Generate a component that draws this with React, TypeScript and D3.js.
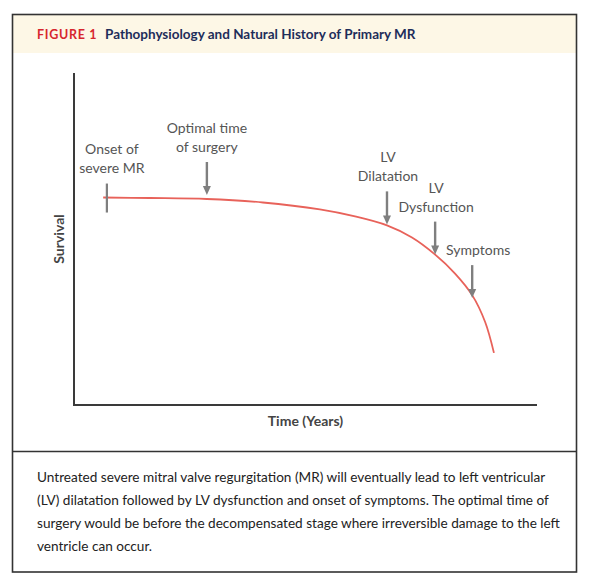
import React from "react";
import * as d3 from "d3";

// survival curve (arbitrary units)
const timePoints = [0.63, 1.64, 2.87, 4.08, 5.31, 6.07, 6.76, 7.3, 7.8, 8.23, 8.6, 8.88, 9.07];
const survival = [62.5, 62.35, 62.05, 61.0, 58.9, 56.8, 54.1, 50.45, 45.3, 39.6, 33.1, 25.0, 15.7];

const eventNames = ["onset", "optimal", "dilatation", "dysfunction", "symptoms"];
const eventTimes = [0.71, 2.87, 6.76, 7.8, 8.6];
const eventLabels = [
  ["Onset of", "severe MR"],
  ["Optimal time", "of surgery"],
  ["LV", "Dilatation"],
  ["LV", "Dysfunction"],
  ["Symptoms"],
];

const captionLines = [
  "Untreated severe mitral valve regurgitation (MR) will eventually lead to left ventricular",
  "(LV) dilatation followed by LV dysfunction and onset of symptoms. The optimal time of",
  "surgery would be before the decompensated stage where irreversible damage to the left",
  "ventricle can occur.",
];

const W = 605;
const H = 579;
const FONT = "Lato, 'Open Sans', sans-serif";

const App: React.FC = () => {
  const x = d3.scaleLinear().domain([0, 10]).range([74, 537]);
  const y = d3.scaleLinear().domain([0, 100]).range([405, 73]);

  const pts = timePoints.map((t, i) => ({ t, v: survival[i] }));
  const line = d3
    .line<{ t: number; v: number }>()
    .x((d) => x(d.t))
    .y((d) => y(d.v))
    .curve(d3.curveCatmullRom.alpha(0.5));

  const bis = d3.bisector((d: { t: number }) => d.t).left;
  const levelAt = (t: number) => {
    const i = Math.max(1, Math.min(pts.length - 1, bis(pts, t)));
    const a = pts[i - 1];
    const b = pts[i];
    return a.v + ((b.v - a.v) * (t - a.t)) / (b.t - a.t);
  };

  const labelDx: Record<string, number> = { onset: 5, optimal: 0, dilatation: 1, dysfunction: 1, symptoms: 6 };
  const tipGap: Record<string, number> = { optimal: 4, dilatation: 1, dysfunction: 0, symptoms: -3 };
  const gray = "#7f7f7f";

  return (
    <svg
      width={W}
      height={H}
      style={{ position: "absolute", left: 0, top: 0, background: "#fff" }}
      fontFamily={FONT}
    >
      {/* frame + header band */}
      <rect x={13} y={15} width={563} height={38} fill="#fdf7e6" />
      <rect x={12.5} y={14.5} width={564} height={557.5} fill="none" stroke="#333" strokeWidth={1.6} />
      <line x1={12.5} x2={576.5} y1={451.5} y2={451.5} stroke="#333" strokeWidth={1.6} />
      <text x={37} y={39} fontSize={12.5} fontWeight={700} fill="#d7262e" letterSpacing={0.7}>
        FIGURE 1
      </text>
      <text x={105} y={39} fontSize={13.5} fontWeight={700} fill="#1e2d5a">
        Pathophysiology and Natural History of Primary MR
      </text>

      {/* axes */}
      <line x1={x(0)} x2={x(0)} y1={y(100)} y2={y(0) + 1} stroke="#3a3a3a" strokeWidth={2} />
      <line x1={x(0) - 1} x2={x(10)} y1={y(0)} y2={y(0)} stroke="#3a3a3a" strokeWidth={2} />
      <text x={(x(0) + x(10)) / 2} y={426} textAnchor="middle" fontSize={14} fontWeight={700} fill="#444">
        Time (Years)
      </text>
      <text
        transform={`translate(64,${y(50)}) rotate(-90)`}
        textAnchor="middle"
        fontSize={14}
        fontWeight={700}
        fill="#444"
      >
        Survival
      </text>

      {/* curve */}
      <path d={line(pts) ?? ""} fill="none" stroke="#e8625a" strokeWidth={1.8} />

      {/* events */}
      {eventNames.map((name, i) => {
        const ex = x(eventTimes[i]);
        const ly = y(levelAt(eventTimes[i]));
        let top: number;
        let mark: React.ReactNode;
        if (name === "onset") {
          top = ly - 14;
          mark = <line x1={ex} x2={ex} y1={top} y2={ly + 15} stroke={gray} strokeWidth={2.2} />;
        } else {
          const tip = ly - tipGap[name];
          top = tip - 33;
          mark = (
            <g>
              <line x1={ex} x2={ex} y1={top} y2={tip - 8} stroke={gray} strokeWidth={2.4} />
              <path d={`M${ex - 4},${tip - 9} L${ex + 4},${tip - 9} L${ex},${tip} Z`} fill={gray} />
            </g>
          );
        }
        const lines = eventLabels[i];
        return (
          <g key={name}>
            {mark}
            {lines.map((s, j) => (
              <text
                key={j}
                x={ex + labelDx[name]}
                y={top - 15 - (lines.length - 1 - j) * 19}
                dy="0.35em"
                textAnchor="middle"
                fontSize={14}
                fill="#555"
              >
                {s}
              </text>
            ))}
          </g>
        );
      })}

      {/* caption */}
      {captionLines.map((s, i) => (
        <text key={i} x={37} y={482 + i * 23} fontSize={13.6} fill="#222">
          {s}
        </text>
      ))}
    </svg>
  );
};

export default App;
